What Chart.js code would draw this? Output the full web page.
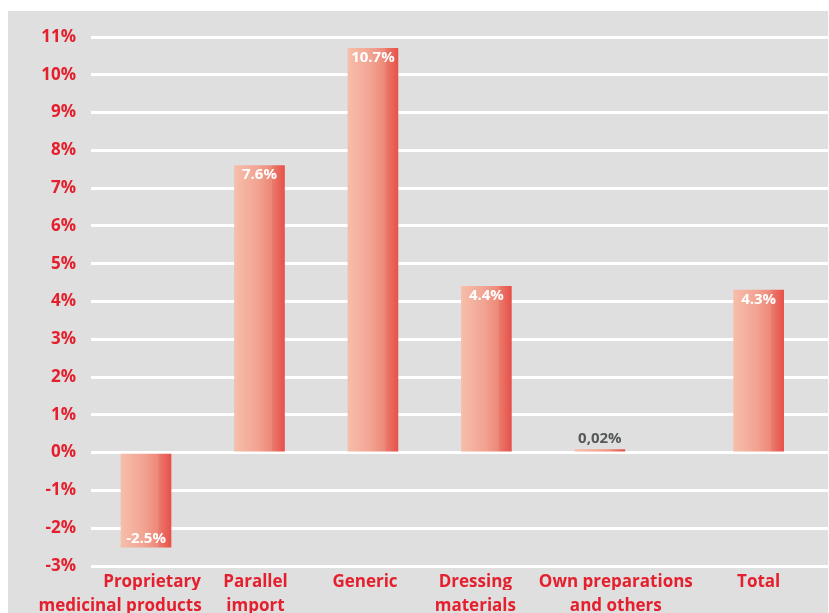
<!DOCTYPE html>
<html>
<head>
<meta charset="utf-8">
<script src="https://cdn.jsdelivr.net/npm/chart.js@4"></script>
<style>
  html, body { margin: 0; padding: 0; background: #fff; }
  #wrap { width: 829px; height: 613px; position: relative; }
</style>
</head>
<body>
<div id="wrap"><canvas id="growthChart"></canvas></div>
<script>
const categories = [
  ['Proprietary', 'medicinal products'],
  ['Parallel', 'import'],
  ['Generic'],
  ['Dressing', 'materials'],
  ['Own preparations', 'and others'],
  ['Total']
];
const growth = [-2.5, 7.6, 10.7, 4.4, 0.02, 4.3];
const valueLabels = ['-2.5%', '7.6%', '10.7%', '4.4%', '0,02%', '4.3%'];
const yTicks = [-3, -2, -1, 0, 1, 2, 3, 4, 5, 6, 7, 8, 9, 10, 11];

const red = '#e5202e';
const font = "'Open Sans', 'Noto Sans', sans-serif";

// Total sits a little apart from the other groups
const slots = categories.map((c, i) => i === categories.length - 1 ? i + 0.4 : i);
// labels in the original are not quite centred under their bars (in x units)
const nudgeTop = [0.053, -0.035, -0.07, -0.097, 0.141, 0];
const nudgeBottom = [-0.229, -0.035, 0, -0.097, 0.141, 0];

function barGradient(ctx) {
  const chart = ctx.chart;
  if (!chart.chartArea || ctx.dataIndex === undefined) return '#ec7a6a';
  const x = chart.scales.x.getPixelForValue(slots[ctx.dataIndex]);
  const g = chart.ctx.createLinearGradient(x - 25, 0, x + 25, 0);
  g.addColorStop(0, '#f6bea9');
  g.addColorStop(0.45, '#f2a493');
  g.addColorStop(0.74, '#ed8877');
  g.addColorStop(0.76, '#ea7a6c');
  g.addColorStop(1, '#e8514a');
  return g;
}

const backgroundPlugin = {
  id: 'panel',
  beforeDraw(chart) {
    const c = chart.ctx;
    c.save();
    c.fillStyle = '#dedfde';
    c.fillRect(8, 11, 820, 602);
    c.restore();
  }
};

const valueLabelPlugin = {
  id: 'valueLabels',
  afterDatasetsDraw(chart) {
    const c = chart.ctx;
    const meta = chart.getDatasetMeta(0);
    c.save();
    c.font = 'bold 15px ' + font;
    c.textAlign = 'center';
    meta.data.forEach((bar, i) => {
      const v = growth[i];
      if (Math.abs(v) < 0.5) {
        c.fillStyle = '#555955';
        c.textBaseline = 'bottom';
        c.fillText(valueLabels[i], bar.x, bar.y - 3);
      } else if (v < 0) {
        c.fillStyle = '#ffffff';
        c.textBaseline = 'bottom';
        c.fillText(valueLabels[i], bar.x, bar.y - 1);
      } else {
        c.fillStyle = '#ffffff';
        c.textBaseline = 'top';
        c.fillText(valueLabels[i], bar.x, bar.y + 2);
      }
    });
    c.restore();
  }
};

const labelFont = { family: font, size: 17, weight: 'bold', lineHeight: 1.4 };

new Chart(document.getElementById('growthChart'), {
  type: 'bar',
  data: {
    datasets: [{
      data: growth.map((v, i) => ({ x: slots[i], y: v })),
      backgroundColor: barGradient,
      borderWidth: 0,
      barThickness: 50,
      minBarLength: 3
    }]
  },
  options: {
    responsive: true,
    maintainAspectRatio: false,
    animation: false,
    layout: { padding: { top: 37, right: 0, left: 0, bottom: 0 } },
    plugins: {
      legend: { display: false },
      tooltip: { enabled: false }
    },
    scales: {
      x: {
        type: 'linear',
        position: 'bottom',
        weight: 0,
        offset: false,
        min: -0.485,
        max: 6.02,
        grid: { display: false, offset: false },
        border: { display: false },
        afterBuildTicks: scale => { scale.ticks = slots.map((v, i) => ({ value: v + nudgeTop[i] })); },
        afterFit: scale => { scale.height = 24; },
        ticks: {
          autoSkip: false,
          maxRotation: 0,
          padding: -4,
          color: red,
          font: labelFont,
          callback: (value, index) => categories[index][0]
        }
      },
      x2: {
        type: 'linear',
        position: 'bottom',
        weight: 1,
        offset: false,
        min: -0.485,
        max: 6.02,
        grid: { display: false, offset: false },
        border: { display: false },
        afterBuildTicks: scale => {
          scale.ticks = slots.map((v, i) => ({ value: v + nudgeBottom[i] }));
        },
        afterFit: scale => { scale.height = 23; },
        ticks: {
          autoSkip: false,
          maxRotation: 0,
          padding: -4,
          color: red,
          font: labelFont,
          callback: (value, index) => categories[index][1] || ''
        }
      },
      y: {
        min: -3,
        max: 11,
        grid: { color: '#ffffff', lineWidth: 3, drawTicks: false },
        border: { display: false },
        afterBuildTicks: scale => { scale.ticks = yTicks.map(v => ({ value: v })); },
        afterFit: scale => { scale.width = 91; },
        ticks: {
          padding: 15,
          color: red,
          font: { family: font, size: 17, weight: 'bold' },
          callback: v => v + '%'
        }
      }
    }
  },
  plugins: [backgroundPlugin, valueLabelPlugin]
});
</script>
</body>
</html>
